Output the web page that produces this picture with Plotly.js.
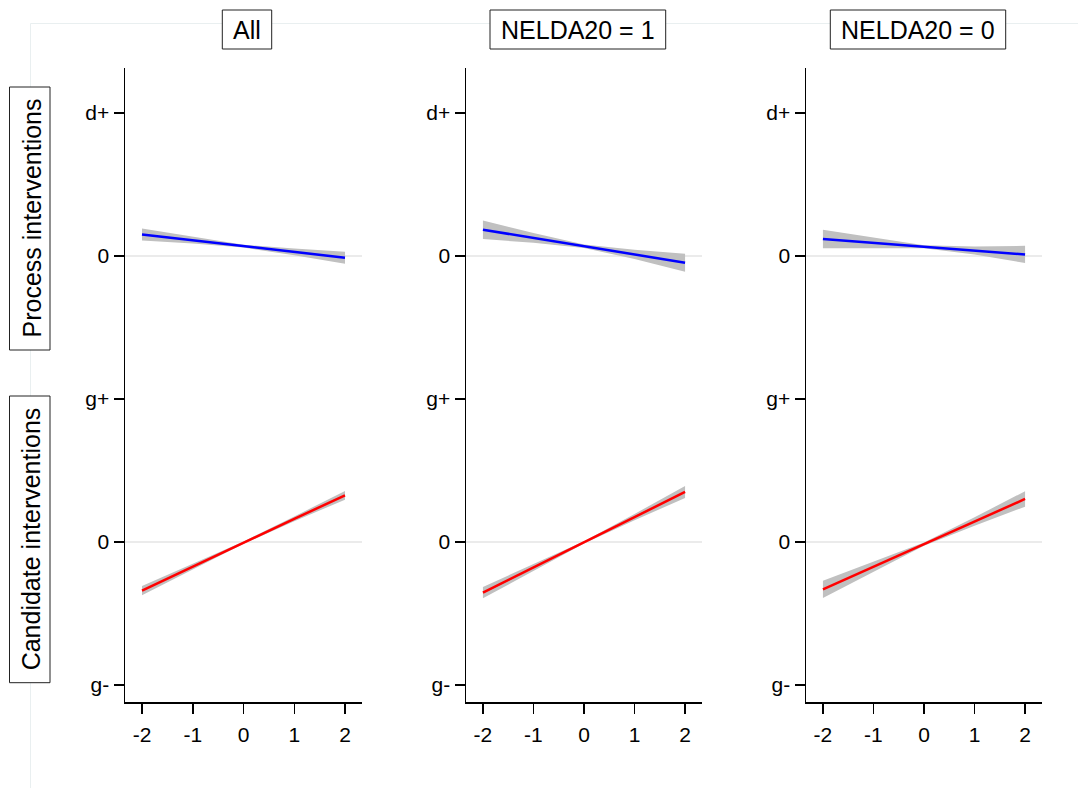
<!DOCTYPE html>
<html>
<head>
<meta charset="utf-8">
<script src="https://cdn.plot.ly/plotly-3.0.1.min.js"></script>
<style>html,body{margin:0;padding:0;background:#fff;}#chart{width:1078px;height:788px;}</style>
</head>
<body>
<div id="chart"></div>
<script>
// ---- data ----
const columnTitles = ["All", "NELDA20 = 1", "NELDA20 = 0"];
const rowTitles = ["Process interventions", "Candidate interventions"];
const xValues = [-2, -1, 0, 1, 2];
const xTickVals = [-2, -1, 0, 1, 2];
const xTickText = ["-2", "-1", "0", "1", "2"];
const processTickVals = [0, 1];
const processTickText = ["0", "d+"];
const candidateTickVals = [-1, 0, 1];
const candidateTickText = ["g-", "0", "g+"];

// Process interventions (blue)
const processAllFit   = [0.150, 0.110, 0.069, 0.029, -0.012];
const processAllLower = [0.108, 0.087, 0.059, 0.006, -0.054];
const processAllUpper = [0.192, 0.133, 0.079, 0.052, 0.030];
const processN1Fit    = [0.184, 0.126, 0.068, 0.011, -0.047];
const processN1Lower  = [0.119, 0.092, 0.056, -0.021, -0.110];
const processN1Upper  = [0.249, 0.160, 0.080, 0.043, 0.016];
const processN0Fit    = [0.119, 0.092, 0.065, 0.038, 0.011];
const processN0Lower  = [0.054, 0.057, 0.055, 0.010, -0.049];
const processN0Upper  = [0.184, 0.127, 0.075, 0.066, 0.071];

// Candidate interventions (red)
const candidateAllFit   = [-0.340, -0.172, -0.005, 0.162, 0.326];
const candidateAllLower = [-0.372, -0.190, -0.013, 0.145, 0.296];
const candidateAllUpper = [-0.308, -0.154, 0.003, 0.179, 0.356];
const candidateN1Fit    = [-0.354, -0.178, -0.002, 0.174, 0.350];
const candidateN1Lower  = [-0.394, -0.200, -0.010, 0.152, 0.308];
const candidateN1Upper  = [-0.314, -0.156, 0.006, 0.196, 0.392];
const candidateN0Fit    = [-0.331, -0.173, -0.015, 0.143, 0.301];
const candidateN0Lower  = [-0.391, -0.206, -0.026, 0.113, 0.247];
const candidateN0Upper  = [-0.271, -0.140, -0.004, 0.173, 0.355];

// ---- layout helpers ----
const W = 1078, H = 788;
const px = v => v / W;
const py = v => 1 - v / H;
const FONT = "Liberation Sans, Arial, Helvetica, sans-serif";
const BAND = "#c0c0c0";

const panels = [
  {fit: processAllFit, lo: processAllLower, hi: processAllUpper, color: "#0000ff"},
  {fit: processN1Fit,  lo: processN1Lower,  hi: processN1Upper,  color: "#0000ff"},
  {fit: processN0Fit,  lo: processN0Lower,  hi: processN0Upper,  color: "#0000ff"},
  {fit: candidateAllFit, lo: candidateAllLower, hi: candidateAllUpper, color: "#ff0000"},
  {fit: candidateN1Fit,  lo: candidateN1Lower,  hi: candidateN1Upper,  color: "#ff0000"},
  {fit: candidateN0Fit,  lo: candidateN0Lower,  hi: candidateN0Upper,  color: "#ff0000"}
];

const colX = [[125, 362], [466, 702], [806, 1042]];
const rowY = [[68, 327], [327, 702]];
const yRanges = [[-0.4965, 1.3147], [-1.1189, 1.5035]];
const xRange = [-2.335, 2.335];

const traces = [];
const layout = {
  width: W, height: H,
  margin: {l: 0, r: 0, t: 0, b: 0},
  paper_bgcolor: "#ffffff",
  plot_bgcolor: "rgba(0,0,0,0)",
  showlegend: false,
  font: {family: FONT, color: "#000", size: 21},
  shapes: [], annotations: []
};

panels.forEach((p, i) => {
  const n = i + 1;
  const xa = "x" + (n === 1 ? "" : n), ya = "y" + (n === 1 ? "" : n);
  const row = Math.floor(i / 3), col = i % 3;
  traces.push({x: xValues, y: p.lo, xaxis: xa, yaxis: ya, mode: "lines",
    line: {width: 0, color: BAND}, hoverinfo: "skip"});
  traces.push({x: xValues, y: p.hi, xaxis: xa, yaxis: ya, mode: "lines",
    fill: "tonexty", fillcolor: BAND, line: {width: 0, color: BAND}, hoverinfo: "skip"});
  traces.push({x: xValues, y: p.fit, xaxis: xa, yaxis: ya, mode: "lines",
    line: {width: 2.5, color: p.color}});

  const xKey = "xaxis" + (n === 1 ? "" : n), yKey = "yaxis" + (n === 1 ? "" : n);
  const bottom = row === 1;
  layout[xKey] = {
    domain: [px(colX[col][0]), px(colX[col][1])],
    range: xRange, anchor: ya,
    showgrid: false, zeroline: false,
    showline: bottom, linecolor: "#000", linewidth: 1.5,
    ticks: bottom ? "outside" : "", ticklen: 10, tickwidth: 1.5, tickcolor: "#000",
    showticklabels: bottom, ticklabelstandoff: 3,
    tickmode: "array", tickvals: xTickVals, ticktext: xTickText,
    tickfont: {family: FONT, size: 21, color: "#000"}
  };
  layout[yKey] = {
    domain: [py(rowY[row][1]), py(rowY[row][0])],
    range: yRanges[row], anchor: xa,
    showgrid: false,
    zeroline: true, zerolinecolor: "#ebebeb", zerolinewidth: 2,
    showline: true, linecolor: "#000", linewidth: 1.5,
    ticks: "outside", ticklen: 10, tickwidth: 1.5, tickcolor: "#000",
    tickmode: "array",
    tickvals: bottom ? candidateTickVals : processTickVals,
    ticktext: bottom ? candidateTickText : processTickText,
    tickfont: {family: FONT, size: 21, color: "#000"}
  };
});

// faint outer frame
layout.shapes.push({type: "line", xref: "paper", yref: "paper",
  x0: px(30.5), x1: 1, y0: py(23.5), y1: py(23.5), line: {color: "#e9eff0", width: 1}});
layout.shapes.push({type: "line", xref: "paper", yref: "paper",
  x0: px(30.5), x1: px(30.5), y0: py(23.5), y1: 0, line: {color: "#e9eff0", width: 1}});

// column title boxes
const titleBoxes = [[222.3, 271.7], [490, 665.7], [830.3, 1005.7]];
columnTitles.forEach((t, i) => {
  const b = titleBoxes[i];
  layout.shapes.push({type: "rect", xref: "paper", yref: "paper",
    x0: px(b[0]), x1: px(b[1]), y0: py(49), y1: py(10),
    line: {color: "#222", width: 1}, fillcolor: "#fff"});
  layout.annotations.push({text: t, xref: "paper", yref: "paper",
    x: px((b[0] + b[1]) / 2), y: py(30), xanchor: "center", yanchor: "middle",
    showarrow: false, font: {family: FONT, size: 25, color: "#000"}});
});

// row title boxes
const rowBoxes = [[87, 350], [396, 682.7]];
rowTitles.forEach((t, i) => {
  const b = rowBoxes[i];
  layout.shapes.push({type: "rect", xref: "paper", yref: "paper",
    x0: px(9.5), x1: px(50), y0: py(b[1]), y1: py(b[0]),
    line: {color: "#222", width: 1}, fillcolor: "#fff"});
  layout.annotations.push({text: t, xref: "paper", yref: "paper",
    x: px(31), y: py((b[0] + b[1]) / 2), xanchor: "center", yanchor: "middle",
    textangle: -90, showarrow: false, font: {family: FONT, size: 25, color: "#000"}});
});

Plotly.newPlot("chart", traces, layout, {staticPlot: true, displayModeBar: false});
</script>
</body>
</html>
